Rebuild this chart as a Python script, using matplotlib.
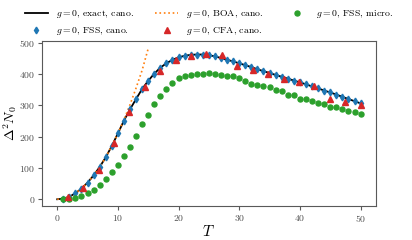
import matplotlib
matplotlib.use('agg')
import matplotlib.pyplot as plt

plt.rcParams['mathtext.fontset'] = 'cm'
plt.rcParams['font.family'] = 'serif'
plt.rcParams['font.serif'] = ['cmr10', 'DejaVu Serif']
plt.rcParams['axes.formatter.use_mathtext'] = True

# exact canonical result (T = 0..50)
T_exact = list(range(0, 51))
exact = [0, 2, 8, 19, 34, 53, 76, 103, 134, 170, 210, 251, 287, 320, 352,
         378, 401, 420, 434, 445, 453, 458, 461, 462, 462, 460, 456, 451,
         445, 440, 434, 428, 422, 415, 409, 403, 397, 391, 385, 379, 373,
         367, 360, 354, 347, 341, 334, 327, 320, 313, 306]

# FSS canonical (T = 1..50)
T_fss = list(range(1, 51))
fss_cano = exact[1:]

# FSS microcanonical (T = 1..50)
fss_micro = [0, 1, 4, 11, 19, 31, 46, 64, 86, 110, 137, 166, 203, 240, 268,
             305, 330, 352, 372, 388, 392, 398, 400, 401, 403, 399, 396, 393,
             392, 386, 376, 369, 365, 362, 359, 349, 346, 332, 332, 321, 320,
             313, 308, 303, 296, 293, 289, 282, 278, 272]

# BOA canonical (T = 0..15)
T_boa = list(range(0, 16))
boa = [0, 2, 8, 19, 34, 53, 76, 103, 134, 170, 210, 254, 302, 355, 412, 481]

# CFA canonical
T_cfa = [1.75, 4.29, 6.83, 9.37, 11.9, 14.4, 17.0, 19.5, 22.1, 24.6, 27.2,
         29.7, 32.2, 34.8, 37.3, 39.9, 42.4, 44.9, 47.5, 50.0]
cfa = [7, 36, 94, 181, 277, 358, 408, 443, 458, 464, 462, 424, 412, 399,
       384, 373, 362, 321, 312, 300]

fig = plt.figure(figsize=(4.12, 2.4), dpi=100)
ax = fig.add_axes([0.102, 0.143, 0.81, 0.686])

ax.plot(T_exact, exact, color='k', lw=1.3, label=r'$g=0$, exact, cano.', zorder=2)
ax.plot(T_fss, fss_cano, ls='none', marker='d', ms=3.4, color='tab:blue',
        label=r'$g=0$, FSS, cano.', zorder=3)
ax.plot(T_boa, boa, ls=':', lw=1.2, color='tab:orange',
        label=r'$g=0$, BOA, cano.', zorder=2)
ax.plot(T_cfa, cfa, ls='none', marker='^', ms=3.8, color='tab:red',
        label=r'$g=0$, CFA, cano.', zorder=4)
ax.plot(T_fss, fss_micro, ls='none', marker='o', ms=3.6, color='tab:green',
        label=r'$g=0$, FSS, micro.', zorder=3)

ax.set_xticks([0, 10, 20, 30, 40, 50])
ax.set_yticks([0, 100, 200, 300, 400, 500])
ax.set_xlim(-2.5, 52.5)
ax.set_ylim(-20.5, 505)

for s in ax.spines.values():
    s.set_color('0.35')
ax.tick_params(colors='0.35', labelcolor='0.3', labelsize=7, length=3,
               width=0.8, pad=2)

ax.set_xlabel(r'$T$', fontsize=11, labelpad=0)
ax.set_ylabel(r'$\Delta^2 N_0$', fontsize=10)
ax.yaxis.set_label_coords(-0.068, 0.5)

ax.legend(loc='lower center', bbox_to_anchor=(0.5, 1.0), ncol=3,
          frameon=False, fontsize=7, columnspacing=2.2, handlelength=2.4,
          handletextpad=0.8, labelspacing=0.5, borderaxespad=0.2,
          borderpad=0.2)

fig.savefig('out.png', dpi=100)
